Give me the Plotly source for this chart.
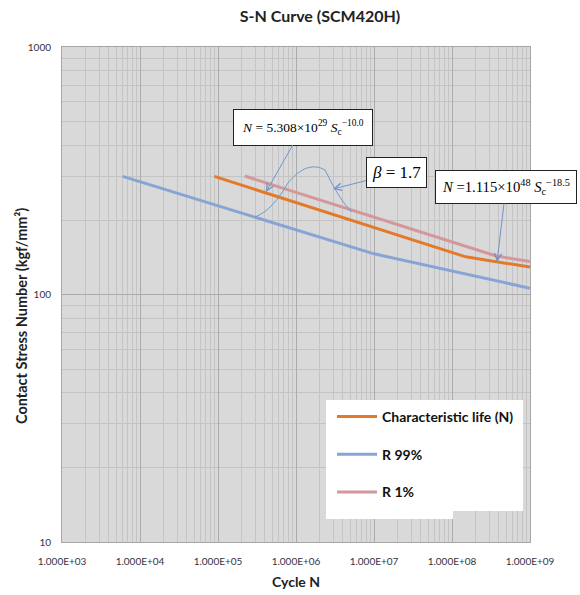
import plotly.graph_objects as go

# ---- data ----
char_N = [9.0e4, 1.5e8, 1.0e9]
char_S = [300, 142, 129]
r99_N = [6.0e3, 1.0e7, 1.0e9]
r99_S = [300, 146, 106]
r1_N = [2.2e5, 3.7e8, 1.0e9]
r1_S = [301, 143, 136]

x_tick_vals = [1e3, 1e4, 1e5, 1e6, 1e7, 1e8, 1e9]
x_tick_text = ["1.000E+03", "1.000E+04", "1.000E+05", "1.000E+06",
               "1.000E+07", "1.000E+08", "1.000E+09"]
y_tick_vals = [10, 100, 1000]
y_tick_text = ["10", "100", "1000"]

W, H = 580, 595
L, R, T, B = 62, 530, 47, 542  # plot area in pixels


def px(xp):
    return (xp - L) / (R - L)


def py(yp):
    return (B - yp) / (B - T)


x_minor = [k * 10 ** e for e in range(3, 9) for k in range(2, 10)]
y_minor = [k * 10 ** e for e in range(1, 3) for k in range(2, 10)]

sans = "Lato, Roboto, sans-serif"
serif = "Liberation Serif, DejaVu Serif, serif"

fig = go.Figure()
fig.add_trace(go.Scatter(x=char_N, y=char_S, mode="lines", name="<b>Characteristic life (N)</b>",
                         line=dict(color="#E37A2B", width=3), legendgroup="a"))
fig.add_trace(go.Scatter(x=r99_N, y=r99_S, mode="lines", name="<b>R 99%</b>",
                         line=dict(color="#88A4D6", width=3), legendgroup="b"))
fig.add_trace(go.Scatter(x=r1_N, y=r1_S, mode="lines", name="<b>R 1%</b>",
                         line=dict(color="#D4979B", width=3), legendgroup="c"))

axis_common = dict(showline=True, linecolor="#A6A6A6", linewidth=1, mirror=True,
                   ticks="", tickfont=dict(family=sans, size=10, color="#333344"),
                   gridcolor="#ABABAB", gridwidth=1, zeroline=False, automargin=False)

fig.update_xaxes(type="log", range=[3, 9], tickvals=x_tick_vals, ticktext=x_tick_text,
                 minor=dict(tickmode="array", tickvals=x_minor, showgrid=True,
                            gridcolor="#C4C4C4", gridwidth=1),
                 ticklabelstandoff=10,
                 title=dict(text="<b>Cycle N</b>", font=dict(family=sans, size=14, color="#222"),
                            standoff=11),
                 **axis_common)
fig.update_yaxes(type="log", range=[1, 3], tickvals=y_tick_vals, ticktext=y_tick_text,
                 minor=dict(tickmode="array", tickvals=y_minor, showgrid=True,
                            gridcolor="#C4C4C4", gridwidth=1),
                 ticklabelstandoff=8,
                 **axis_common)

# legend white box (stepped like the reference)
box = [(326, 400), (523, 400), (523, 511), (453, 511), (453, 519), (326, 519)]
path = "M " + " L ".join(f"{px(a):.4f},{py(b):.4f}" for a, b in box) + " Z"
shapes = [dict(type="path", xref="paper", yref="paper", path=path,
               fillcolor="white", line=dict(width=0), layer="above")]

# curved connector line
curve = [(255, 217), (268, 212), (278, 200), (288, 183), (300, 168), (313, 163),
         (325, 170), (333, 186), (342, 203), (352, 212)]
cpath = "M {:.4f},{:.4f}".format(px(curve[0][0]), py(curve[0][1]))
pts = curve[1:]
cpath += " C " + " ".join(f"{px(a):.4f},{py(b):.4f}" for a, b in pts[:3])
cpath += " C " + " ".join(f"{px(a):.4f},{py(b):.4f}" for a, b in pts[3:6])
cpath += " C " + " ".join(f"{px(a):.4f},{py(b):.4f}" for a, b in pts[6:9])
shapes.append(dict(type="path", xref="paper", yref="paper", path=cpath,
                   line=dict(color="#7398CC", width=1), layer="above"))

arrow_color = "#6F94CC"
ann_common = dict(xref="paper", yref="paper", showarrow=True, arrowhead=5, arrowsize=1.4,
                  arrowwidth=1, arrowcolor=arrow_color, bgcolor="white",
                  bordercolor="#222", borderwidth=1, borderpad=6,
                  font=dict(family=serif, size=14.7, color="black"))

annotations = [
    dict(x=px(266), y=py(192), ax=37, ay=-65,
         text="<i>N</i> = 5.308×10<sup>29</sup> <i>S</i><sub>c</sub><sup>−10.0</sup>",
         **{**ann_common, "font": dict(family=serif, size=13.5, color="black"), "borderpad": 8}),
    dict(x=px(333), y=py(189), ax=63, ay=-16, text="<i>β</i> = 1.7",
         **{**ann_common, "font": dict(family=serif, size=17, color="black"), "borderpad": 5}),
    dict(x=px(497), y=py(262), ax=9, ay=-75,
         text="<i>N</i> =1.115×10<sup>48</sup> <i>S</i><sub>c</sub><sup>−18.5</sup>",
         **ann_common),
    dict(x=px(21), y=py(316), xref="paper", yref="paper", showarrow=False,
         xanchor="center", yanchor="middle",
         text="<b>Contact Stress Number (kgf/mm²)</b>", textangle=-90,
         font=dict(family=sans, size=14.5, color="#222")),
]

fig.update_layout(
    width=W, height=H,
    margin=dict(l=L, r=W - R, t=T, b=H - B),
    paper_bgcolor="white", plot_bgcolor="#D9D9D9",
    title=dict(text="<b>S-N Curve (SCM420H)</b>", x=320 / W, xanchor="center",
               y=1 - 16 / H, yanchor="middle", xref="container", yref="container",
               font=dict(family=sans, size=16, color="#222")),
    showlegend=True,
    legend=dict(x=px(332), y=py(401), xanchor="left", yanchor="top",
                bgcolor="rgba(0,0,0,0)", traceorder="grouped", tracegroupgap=16.5,
                itemwidth=40,
                font=dict(family=sans, size=14, color="#111")),
    shapes=shapes,
    annotations=annotations,
)

fig.write_html("out.html", config={"displayModeBar": False},
               post_script="document.body.style.margin='0';document.body.style.padding='0';")
